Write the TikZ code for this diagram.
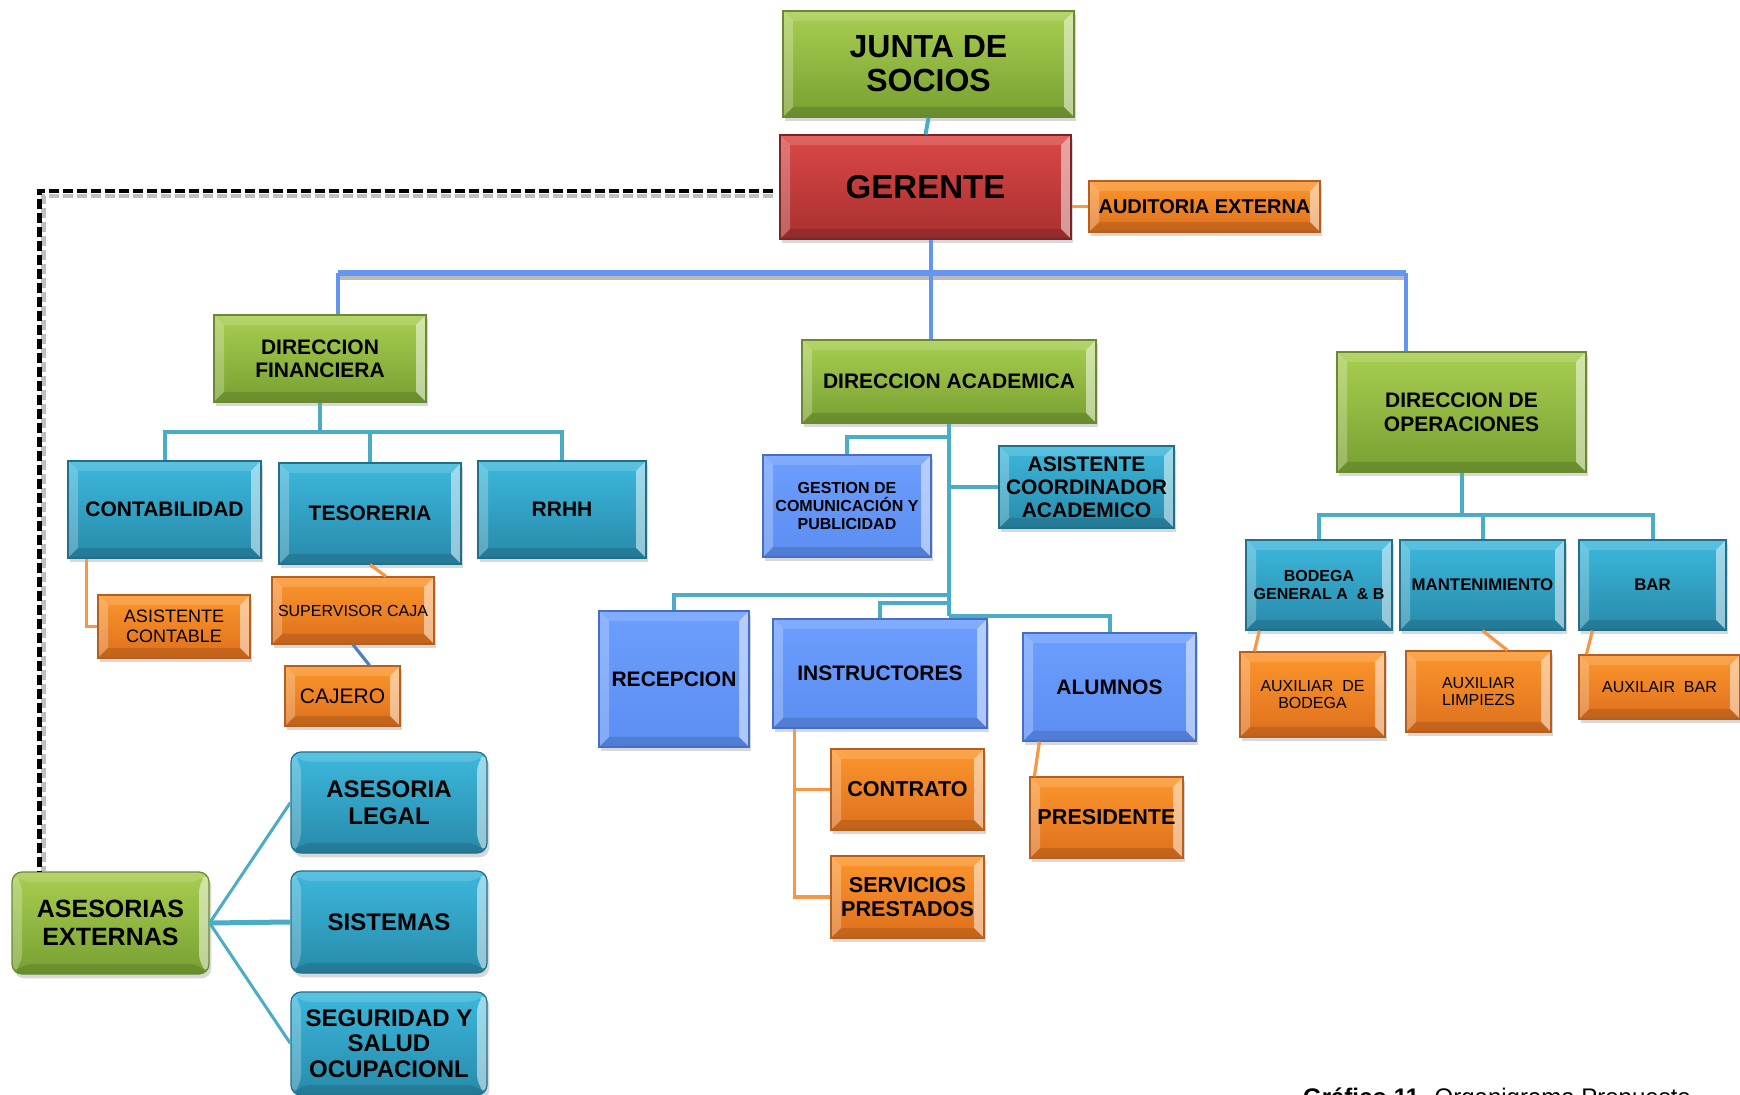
\documentclass[tikz,border=0pt]{standalone}
\usepackage{fontspec}
\setmainfont{Liberation Sans}
\usetikzlibrary{shadows,calc}

\definecolor{grT}{RGB}{168,206,80}\definecolor{grB}{RGB}{120,160,50}\definecolor{grD}{RGB}{105,138,48}
\definecolor{rdT}{RGB}{220,72,70}\definecolor{rdB}{RGB}{168,48,48}\definecolor{rdD}{RGB}{125,35,35}
\definecolor{orT}{RGB}{252,150,44}\definecolor{orB}{RGB}{222,112,30}\definecolor{orD}{RGB}{180,95,30}
\definecolor{tlT}{RGB}{60,184,220}\definecolor{tlB}{RGB}{40,138,170}\definecolor{tlD}{RGB}{32,112,140}
\definecolor{blT}{RGB}{108,158,255}\definecolor{blB}{RGB}{92,142,242}\definecolor{blD}{RGB}{70,110,200}
\definecolor{lnT}{RGB}{75,172,198}\definecolor{lnB}{RGB}{100,149,240}\definecolor{lnO}{RGB}{247,150,70}\definecolor{lnD}{RGB}{79,129,189}

\newcommand\fz[2]{\fontsize{#1}{#2}\selectfont}
\def\bv{5pt}
\newcommand\bevelpaint{%
 \fill[white,opacity=.5] let \p1=(path picture bounding box.south west), \p2=(path picture bounding box.north east) in (\x2,\y1)--(\x2-\bv,\y1+\bv)--(\x2-\bv,\y2-\bv)--(\x2,\y2)--cycle;
 \fill[white,opacity=.25] let \p1=(path picture bounding box.south west), \p2=(path picture bounding box.north east) in (\x1,\y1)--(\x1+\bv,\y1+\bv)--(\x1+\bv,\y2-\bv)--(\x1,\y2)--cycle;
 \fill[white,opacity=.15] let \p1=(path picture bounding box.south west), \p2=(path picture bounding box.north east) in (\x1,\y2)--(\x1+\bv,\y2-\bv)--(\x2-\bv,\y2-\bv)--(\x2,\y2)--cycle;
 \fill[black,opacity=.12] let \p1=(path picture bounding box.south west), \p2=(path picture bounding box.north east) in (\x1,\y1)--(\x1+\bv,\y1+\bv)--(\x2-\bv,\y1+\bv)--(\x2,\y1)--cycle;}

\tikzset{
 box/.style={line width=.6pt, inner sep=1pt, align=center,
   drop shadow={shadow xshift=1.2pt, shadow yshift=-2.2pt, opacity=.3},
   path picture={\bevelpaint}},
 wh/.style 2 args={minimum width=#1*0.5pt, minimum height=#2*0.5pt},
 gbox/.style={box, top color=grT, bottom color=grB, draw=grD},
 rbox/.style={box, top color=rdT, bottom color=rdB, draw=rdD},
 obox/.style={box, top color=orT, bottom color=orB, draw=orD},
 tbox/.style={box, top color=tlT, bottom color=tlB, draw=tlD},
 bbox/.style={box, top color=blT, bottom color=blB, draw=blD},
 tl/.style={draw=lnT, line width=2pt},
 bl/.style={draw=lnB, line width=2pt},
 ol/.style={draw=lnO, line width=1.6pt},
 fb/.style 2 args={font=\bfseries\fz{#1}{#2}},
 fr/.style 2 args={font=\fz{#1}{#2}},
}

\begin{document}
\begin{tikzpicture}[x=0.5pt,y=-0.5pt]
\useasboundingbox (0,0) rectangle (1740,1095);
\fill[white] (0,0) rectangle (1740,1095);

% nodes
\node[gbox, wh={291}{106}, fb={16}{17}] (junta) at (928.5,64) {JUNTA DE\\SOCIOS};
\node[rbox, wh={291}{104}, fb={16.5}{18}] (ger) at (925.5,187) {GERENTE};
\node[obox, wh={231}{51}, fb={10}{12}] (aud) at (1204.5,206.5) {AUDITORIA EXTERNA};
\node[gbox, wh={212}{87}, fb={10.5}{11.6}] (dfin) at (320,358.5) {DIRECCION\\FINANCIERA};
\node[gbox, wh={294}{83}, fb={10.5}{12}] (dacad) at (949,381.5) {DIRECCION ACADEMICA};
\node[gbox, wh={249}{120}, fb={10.5}{12.2}] (dops) at (1461.5,412) {DIRECCION DE\\OPERACIONES};
\node[tbox, wh={193}{97}, fb={10.5}{12}] (contab) at (164.5,509.5) {CONTABILIDAD};
\node[tbox, wh={182}{101}, fb={10.5}{12}] (teso) at (370,513.5) {TESORERIA};
\node[tbox, wh={168}{97}, fb={10.5}{12}] (rrhh) at (562,509.5) {RRHH};
\node[obox, wh={152}{63}, fr={9}{10}] (asco) at (174,626.5) {ASISTENTE\\CONTABLE};
\node[obox, wh={162}{67}, fr={8}{10}] (supc) at (353,610.5) {SUPERVISOR CAJA};
\node[obox, wh={115}{60}, fr={10.5}{12}] (caj) at (342.5,696) {CAJERO};
\node[bbox, wh={168}{102}, fb={8}{8.9}] (gest) at (847,506) {GESTION DE\\COMUNICACIÓN Y\\PUBLICIDAD};
\node[tbox, wh={175}{82}, fb={10.5}{11.5}] (ascoord) at (1086.5,487) {ASISTENTE\\COORDINADOR\\ACADEMICO};
\node[bbox, wh={150}{136}, fb={10.5}{12}] (recep) at (674,679) {RECEPCION};
\node[bbox, wh={214}{109}, fb={10.5}{12}] (instr) at (880,673.5) {INSTRUCTORES};
\node[bbox, wh={173}{108}, fb={10.5}{12}] (alum) at (1109.5,687) {ALUMNOS};
\node[obox, wh={153}{81}, fb={10.8}{12}] (contr) at (907.5,789.5) {CONTRATO};
\node[obox, wh={153}{82}, fb={10.8}{11.7}] (serv) at (907.5,897) {SERVICIOS\\PRESTADOS};
\node[obox, wh={153}{81}, fb={10.8}{12}] (pres) at (1106.5,817.5) {PRESIDENTE};
\node[tbox, wh={146}{90}, fb={8}{8.9}] (bod) at (1319,585) {BODEGA\\GENERAL A \ \& B};
\node[tbox, wh={165}{90}, fb={8.4}{10}] (mant) at (1482.5,585) {MANTENIMIENTO};
\node[tbox, wh={147}{90}, fb={8.4}{10}] (bar) at (1652.5,585) {BAR};
\node[obox, wh={145}{85}, fr={8}{8.9}] (axb) at (1312.5,694.5) {AUXILIAR \ DE\\BODEGA};
\node[obox, wh={145}{81}, fr={8}{8.9}] (axl) at (1478.5,691.5) {AUXILIAR\\LIMPIEZS};
\node[obox, wh={161}{64}, fr={8}{8.9}] (axr) at (1659.5,687) {AUXILAIR \ BAR};
\node[tbox, rounded corners=5pt, wh={196}{101}, fb={12}{13.3}] (legal) at (389,802.5) {ASESORIA\\LEGAL};
\node[tbox, rounded corners=5pt, wh={196}{102}, fb={12}{13}] (sist) at (389,922) {SISTEMAS};
\node[tbox, rounded corners=5pt, wh={196}{103}, fb={12}{12.8}] (seg) at (389,1043.5) {SEGURIDAD Y\\SALUD\\OCUPACIONL};
\node[gbox, rounded corners=5pt, wh={197}{102}, fb={12.5}{13.9}] (asex) at (110.5,923) {ASESORIAS\\EXTERNAS};

% top connectors
\draw[tl] (junta.south) -- (ger.north);
\draw[ol] (ger.east |- aud.west) -- (aud.west);

% main bus
\coordinate (busL) at (338,273);
\coordinate (busR) at (1406,273);
\coordinate (busM) at (931,273);
\draw[gray!55, line width=2.4pt] ($(busL)+(0,5)$) -- ($(busR)+(0,5)$);
\draw[bl, line width=2.6pt] (busL) -- (busR);
\draw[bl] (busM |- ger.south) -- (busM);
\draw[bl] (busL) -- (busL |- dfin.north);
\draw[bl] (busM) -- (busM |- dacad.north);
\draw[bl] (busR) -- (busR |- dops.north);

% finance
\coordinate (fbus) at (320,432);
\draw[tl] (dfin.south) -- (fbus);
\draw[tl] (contab.north) |- (fbus) -| (rrhh.north);
\draw[tl] (teso.north) -- (teso.north |- fbus);
\draw[ol] ($(contab.south west)+(19,0)$) |- (asco.west);
\draw[ol] (teso.south) -- ($(supc.north)+(33,0)$);
\draw[draw=lnD, line width=1.6pt] (supc.south) -- ($(caj.north)+(27,0)$);

% academic
\coordinate (ag) at (949,437);
\coordinate (ar) at (949,595);
\coordinate (ai) at (949,603);
\coordinate (aa) at (949,616);
\draw[tl] (dacad.south) -- (aa);
\draw[tl] (ag) -| (gest.north);
\draw[tl] (ascoord.west) -- (ascoord.west -| ag);
\draw[tl] (ar) -| (recep.north);
\draw[tl] (ai) -| (instr.north);
\draw[tl] (aa) -| (alum.north);
\draw[ol] ($(instr.south west)+(22,0)$) |- (serv.west);
\draw[ol] ($(instr.south west)+(22,0)$) |- (contr.west);
\draw[ol] ($(alum.south west)+(17,0)$) -- ($(pres.north west)+(5,0)$);

% operations
\coordinate (ob) at (1461.5,515);
\draw[tl] (dops.south) -- (ob);
\draw[tl] (bod.north) |- (ob) -| (bar.north);
\draw[tl] (mant.north) -- (mant.north |- ob);
\draw[ol] ($(bod.south west)+(14,0)$) -- ($(axb.north west)+(15,0)$);
\draw[ol] (mant.south) -- ($(axl.north)+(29,0)$);
\draw[ol] ($(bar.south west)+(14,0)$) -- ($(axr.north west)+(8,0)$);

% external advisors
\draw[tl, line width=1.5pt] (asex.east) -- (legal.west);
\draw[tl, line width=2.5pt] (asex.east) -- (sist.west);
\draw[tl, line width=1.5pt] (asex.east) -- (seg.west);

% dashed link
\draw[gray!50, line width=2.2pt, dash pattern=on 5pt off 2pt] ($(ger.west)+(-6,9)$) -| ($(asex.north west)+(32,0)$);
\draw[black, line width=2.2pt, dash pattern=on 5pt off 2pt] ($(ger.west)+(-6,4)$) -| ($(asex.north west)+(28,0)$);

% caption (cut by the lower edge, as in the reference)
\node[anchor=base west, font=\fz{12}{14}] (cap) at (1296,1105) {\textbf{Gráfico 11.} Organigrama Propuesto};
\end{tikzpicture}
\end{document}
